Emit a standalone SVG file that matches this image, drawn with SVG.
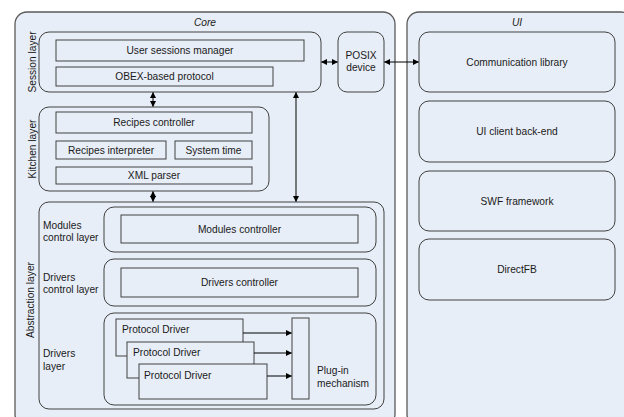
<svg xmlns="http://www.w3.org/2000/svg" width="624" height="417" viewBox="0 0 624 417">
<style>
.box{fill:#e8eef7;stroke:#404040;stroke-width:1}
.outer{fill:#e8eef7;stroke:#5a5a5a;stroke-width:1.3}
text{font-family:"Liberation Sans",Arial,sans-serif;font-size:10.2px;fill:#1a1a1a}
.c{text-anchor:middle}
.it{font-style:italic}
.con{stroke:#000;stroke-width:1;fill:none}
</style>
<defs>
<marker id="ah" markerUnits="userSpaceOnUse" markerWidth="6" markerHeight="6" refX="5.5" refY="3" orient="auto-start-reverse">
<path d="M0,0 L6,3 L0,6 z" fill="#000"/>
</marker>
</defs>
<rect width="624" height="417" fill="#fff"/>
<g id="core">
<rect class="outer" x="15" y="12" width="380" height="414" rx="12"/>
<text class="c it" x="205" y="26">Core</text>
</g>
<g id="ui">
<rect class="outer" x="407" y="12" width="226" height="414" rx="12"/>
<text class="c it" x="517" y="26">UI</text>
</g>
<g id="session-layer">
<rect class="box" x="39" y="32" width="282" height="60" rx="10"/>
<text class="c" transform="translate(35.5,62) rotate(-90)">Session layer</text>
</g>
<g id="user-sessions-manager">
<rect class="box" x="56" y="40" width="248" height="21"/>
<text class="c" x="180" y="54.2">User sessions manager</text>
</g>
<g id="obex">
<rect class="box" x="56" y="67" width="217" height="19"/>
<text class="c" x="164.5" y="80.2">OBEX-based protocol</text>
</g>
<g id="posix">
<rect class="box" x="338" y="32" width="46" height="60" rx="9"/>
<text class="c" x="361" y="59">POSIX</text>
<text class="c" x="361" y="71">device</text>
</g>
<g id="kitchen-layer">
<rect class="box" x="39" y="107" width="230" height="84" rx="10"/>
<text class="c" transform="translate(35.5,149) rotate(-90)">Kitchen layer</text>
</g>
<g id="recipes-controller">
<rect class="box" x="56" y="112" width="196" height="21"/>
<text class="c" x="154" y="126.2">Recipes controller</text>
</g>
<g id="recipes-interpreter">
<rect class="box" x="56" y="141" width="110" height="18"/>
<text class="c" x="111" y="153.7">Recipes interpreter</text>
</g>
<g id="system-time">
<rect class="box" x="175" y="141" width="77" height="18"/>
<text class="c" x="213.5" y="153.7">System time</text>
</g>
<g id="xml-parser">
<rect class="box" x="56" y="167" width="196" height="17"/>
<text class="c" x="154" y="179.2">XML parser</text>
</g>
<g id="abstraction-layer">
<rect class="box" x="39" y="202" width="345" height="207" rx="10"/>
<text class="c" transform="translate(33.5,300) rotate(-90)">Abstraction layer</text>
</g>
<g id="modules-control-layer">
<rect class="box" x="104" y="207" width="272" height="45" rx="10"/>
<text x="43" y="229">Modules</text>
<text x="43" y="241">control layer</text>
</g>
<g id="modules-controller">
<rect class="box" x="121" y="215" width="237" height="28"/>
<text class="c" x="239.5" y="232.7">Modules controller</text>
</g>
<g id="drivers-control-layer">
<rect class="box" x="104" y="259" width="272" height="47" rx="10"/>
<text x="43" y="281">Drivers</text>
<text x="43" y="293">control layer</text>
</g>
<g id="drivers-controller">
<rect class="box" x="121" y="268" width="237" height="29"/>
<text class="c" x="239.5" y="286.2">Drivers controller</text>
</g>
<g id="drivers-layer">
<rect class="box" x="104" y="313" width="272" height="92" rx="10"/>
<text x="43" y="357">Drivers</text>
<text x="43" y="370">layer</text>
</g>
<g id="protocol-driver-1">
<rect class="box" x="116" y="319" width="127" height="37"/>
<text x="122" y="333">Protocol Driver</text>
</g>
<g id="protocol-driver-2">
<rect class="box" x="127" y="342" width="127" height="36"/>
<text x="133" y="356">Protocol Driver</text>
</g>
<g id="protocol-driver-3">
<rect class="box" x="139" y="364" width="128" height="35"/>
<text x="144" y="379">Protocol Driver</text>
</g>
<g id="plugin-mechanism">
<rect class="box" x="292" y="318" width="17" height="81"/>
<text x="317" y="374">Plug-in</text>
<text x="317" y="386.5">mechanism</text>
</g>
<g id="communication-library">
<rect class="box" x="419" y="32" width="196" height="60" rx="10"/>
<text class="c" x="517" y="65.7">Communication library</text>
</g>
<g id="ui-client-backend">
<rect class="box" x="419" y="101" width="196" height="61" rx="10"/>
<text class="c" x="517" y="135.2">UI client back-end</text>
</g>
<g id="swf-framework">
<rect class="box" x="419" y="171" width="196" height="60" rx="10"/>
<text class="c" x="517" y="204.7">SWF framework</text>
</g>
<g id="directfb">
<rect class="box" x="419" y="239" width="196" height="61" rx="10"/>
<text class="c" x="517" y="273.2">DirectFB</text>
</g>
<g id="connectors">
<line class="con" x1="153" y1="92.5" x2="153" y2="106.5" marker-start="url(#ah)" marker-end="url(#ah)"/>
<line class="con" x1="153" y1="191.5" x2="153" y2="201.5" marker-start="url(#ah)" marker-end="url(#ah)"/>
<line class="con" x1="296" y1="92.5" x2="296" y2="201.5" marker-start="url(#ah)" marker-end="url(#ah)"/>
<line class="con" x1="321.5" y1="62" x2="337.5" y2="62" marker-start="url(#ah)" marker-end="url(#ah)"/>
<line class="con" x1="384.5" y1="62" x2="418.5" y2="62" marker-start="url(#ah)" marker-end="url(#ah)"/>
<line class="con" x1="243" y1="333" x2="291.5" y2="333" marker-end="url(#ah)"/>
<line class="con" x1="254" y1="353" x2="291.5" y2="353" marker-end="url(#ah)"/>
<line class="con" x1="267" y1="376" x2="291.5" y2="376" marker-end="url(#ah)"/>
</g>
</svg>
